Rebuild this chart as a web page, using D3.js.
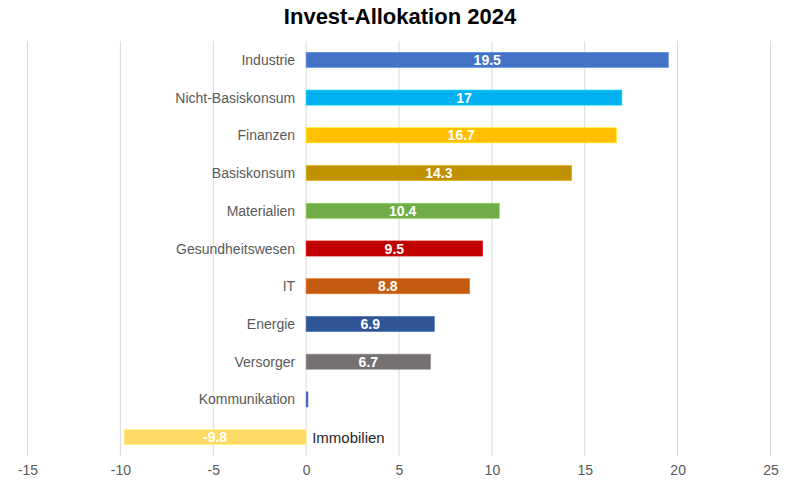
<!DOCTYPE html>
<html><head><meta charset="utf-8">
<script src="https://cdn.jsdelivr.net/npm/d3@7"></script>
<style>body{margin:0;background:#fff;}svg{display:block;font-family:"Liberation Sans",Arial,sans-serif;}</style>
</head><body>
<svg id="c" width="800" height="495"></svg>
<script>
const categories = ["Industrie","Nicht-Basiskonsum","Finanzen","Basiskonsum","Materialien","Gesundheitswesen","IT","Energie","Versorger","Kommunikation","Immobilien"];
const values = [19.5,17,16.7,14.3,10.4,9.5,8.8,6.9,6.7,0.1,-9.8];
const colors = ["#4472C4","#00B0F0","#FFC000","#BF9000","#70AD47","#C00000","#C55A11","#2F5597","#767171","#3A62B0","#FFD966"];
const tickValues = [-15,-10,-5,0,5,10,15,20,25];
const title = "Invest-Allokation 2024";

const svg = d3.select("#c");
const x = d3.scaleLinear().domain([-15,25]).range([27.5,770.5]);
const y = d3.scaleBand().domain(categories).range([41,456]).paddingInner(0.6).paddingOuter(0.3);

svg.append("text").attr("x",400).attr("y",24).attr("text-anchor","middle")
  .attr("font-size",22).attr("font-weight","bold").attr("fill","#000").text(title);

svg.append("g").selectAll("line").data(tickValues).join("line")
  .attr("x1",d=>x(d)).attr("x2",d=>x(d)).attr("y1",41).attr("y2",456)
  .attr("stroke","#d9d9d9").attr("stroke-width",1);

const ax = svg.append("g").attr("transform","translate(0,456)")
  .call(d3.axisBottom(x).tickValues(tickValues).tickSize(0).tickPadding(9).tickFormat(d=>String(d)));
ax.select(".domain").remove();
ax.selectAll("text").attr("font-size",14).attr("fill","#595959").attr("font-family","Liberation Sans, Arial, sans-serif");

const rows = categories.map((c,i)=>({c,v:values[i],col:colors[i]}));
const g = svg.append("g");
g.selectAll("rect").data(rows).join("rect")
  .attr("x",d=>x(Math.min(0,d.v))).attr("width",d=>Math.abs(x(d.v)-x(0)))
  .attr("y",d=>y(d.c)).attr("height",y.bandwidth())
  .attr("fill",d=>d.col).attr("stroke",d=>d3.color(d.col).brighter(0.6)).attr("stroke-width",0.6);

g.selectAll("text.v").data(rows.filter(d=>Math.abs(d.v)>=1)).join("text").attr("class","v")
  .attr("x",d=>(x(d.v)+x(0))/2).attr("y",d=>y(d.c)+y.bandwidth()/2).attr("dy","0.36em")
  .attr("text-anchor","middle").attr("font-size",14).attr("font-weight","bold").attr("fill","#fff")
  .text(d=>String(d.v));

g.selectAll("text.c").data(rows).join("text").attr("class","c")
  .attr("x",d=>d.v<0 ? x(0)+6 : x(0)-11).attr("y",d=>y(d.c)+y.bandwidth()/2).attr("dy","0.36em")
  .attr("text-anchor",d=>d.v<0?"start":"end").attr("font-size",d=>d.v<0?15:14)
  .attr("fill",d=>d.v<0?"#262626":"#595959").text(d=>d.c);
</script>
</body></html>
